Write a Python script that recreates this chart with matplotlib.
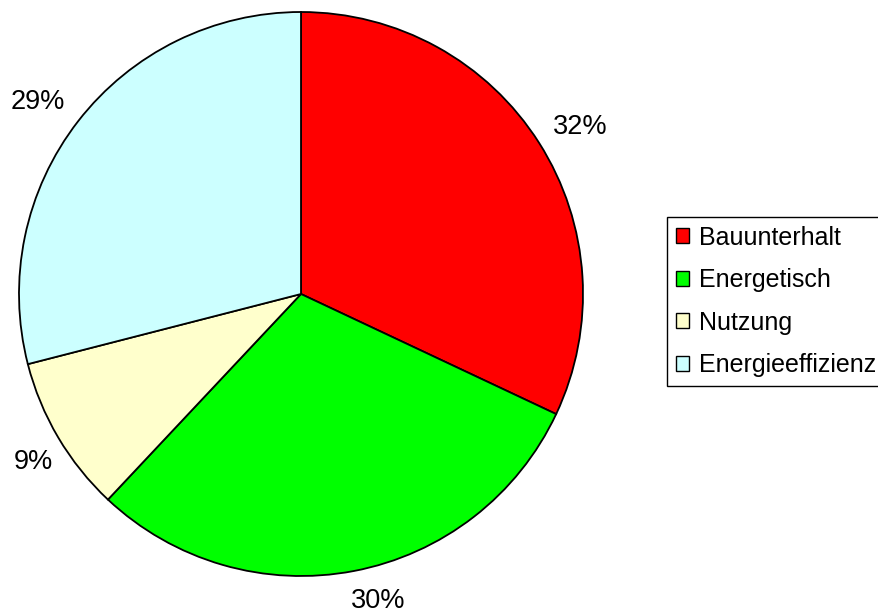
import numpy as np
import matplotlib
matplotlib.use("Agg")
import matplotlib.pyplot as plt
from matplotlib.patches import Patch

categories = ["Bauunterhalt", "Energetisch", "Nutzung", "Energieeffizienz"]
shares = [32, 30, 9, 29]
pct_labels = ["32%", "30%", "9%", "29%"]
colors = ["#FF0000", "#00FF00", "#FFFFCC", "#CCFFFF"]

# where the percentage labels sit (pie data units, radius = 1)
label_xy = [(0.989, 0.592), (0.273, -1.089), (-0.950, -0.596), (-0.933, 0.681)]

plt.rcParams['font.family'] = ['Liberation Sans', 'DejaVu Sans']

W, H = 879, 615
fig = plt.figure(figsize=(W / 100, H / 100), dpi=100)
cx, cy, R = 301, 294, 282
ax = fig.add_axes([(cx - R) / W, (H - cy - R) / H, 2 * R / W, 2 * R / H])

wedges, _ = ax.pie(shares, colors=colors, startangle=90, counterclock=False,
                   radius=1, wedgeprops=dict(edgecolor='black', linewidth=1.3))
ax.set_xlim(-1, 1)
ax.set_ylim(-1, 1)
ax.axis('off')

for (x, y), txt in zip(label_xy, pct_labels):
    ax.text(x, y, txt, ha='center', va='center', fontsize=19.5, clip_on=False)

handles = [Patch(facecolor=c, edgecolor='black', linewidth=1.0) for c in colors]
leg = fig.legend(handles, categories, loc='upper left',
                 bbox_to_anchor=(667 / W, 1 - 217 / H), fontsize=18,
                 frameon=True, fancybox=False, framealpha=1,
                 handlelength=0.55, handleheight=0.55, handletextpad=0.4,
                 labelspacing=0.74, borderpad=0.35, borderaxespad=0)
leg.get_frame().set_edgecolor('black')
leg.get_frame().set_linewidth(1.0)

fig.savefig('out.png', dpi=100)
